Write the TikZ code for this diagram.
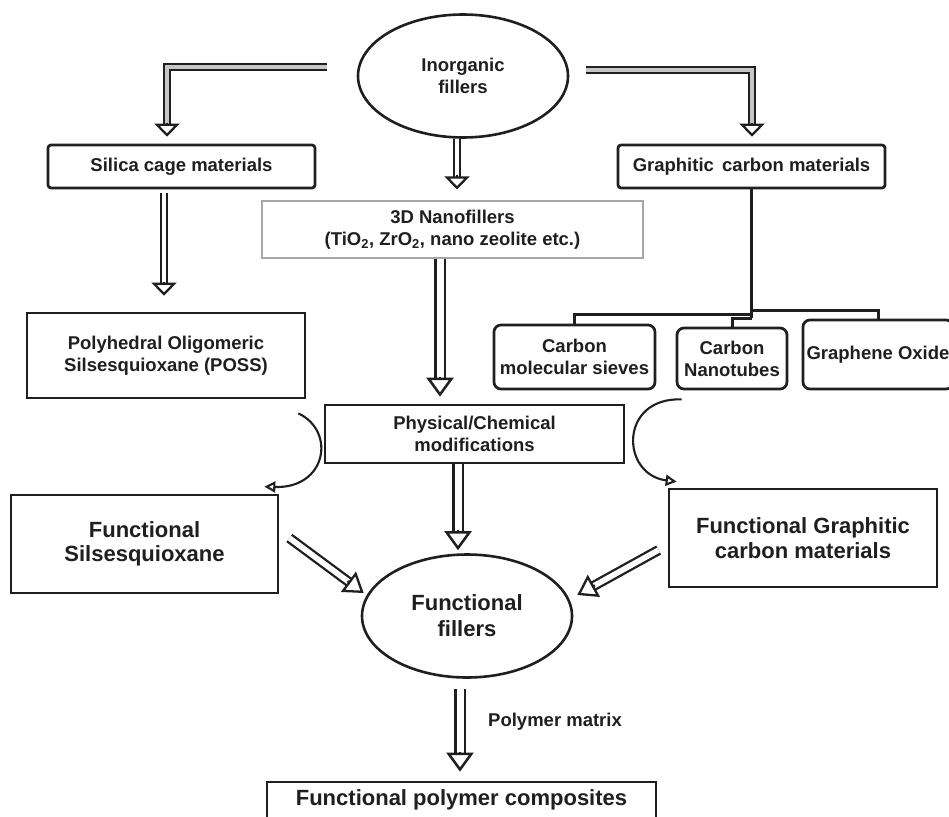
\documentclass[tikz,border=0pt]{standalone}
\usepackage{fontspec}
\setmainfont{Liberation Sans}
\usetikzlibrary{arrows.meta,calc,shapes.geometric}
\newcommand\smfont{\fontsize{18.5}{22}\selectfont\bfseries}
\newcommand\lgfont{\fontsize{22}{24.5}\selectfont\bfseries}
\colorlet{ink}{black!88}
\begin{document}
\begin{tikzpicture}[x=1pt,y=-1pt,
  box/.style={draw=ink, text=ink, line width=2.7pt, align=center, inner sep=0pt, font=\smfont},
  bigbox/.style={box, font=\lgfont},
  oval/.style={draw=ink, text=ink, line width=2.6pt, ellipse, align=center, inner sep=0pt,
               minimum width=210pt, minimum height=123pt},
  sshaft/.style={draw=ink, line width=2.3pt, double=white, double distance=3.6pt},
  lshaft/.style={sshaft, double=gray!45},
  bshaft/.style={draw=ink, line width=2.5pt, double=white, double distance=7pt},
  dshaft/.style={draw=ink, line width=2.3pt, double=white, double distance=5.6pt},
  shead/.style={draw=ink, line width=2.3pt, -{Triangle[fill=white,width=25pt,length=13pt]}},
  bhead/.style={draw=ink, line width=2.5pt, -{Triangle[fill=white,width=27pt,length=19pt]}},
  dhead/.style={draw=ink, line width=2.3pt, -{Triangle[fill=white,width=25pt,length=19pt]}},
  curve/.style={draw=ink, line width=2.1pt, -{Triangle[fill=white,width=11pt,length=11pt]}},
  tree/.style={draw=ink, line width=3pt}]
\clip (0,0) rectangle (949,816);
\fill[white] (0,0) rectangle (949,816);

% nodes
\node[oval, font=\smfont] (inorg) at (463,76) {Inorganic\\fillers};
\node[box, rounded corners=3pt, minimum width=267pt, minimum height=43pt] (sil) at (181.5,166.5) {Silica cage materials};
\node[box, rounded corners=3pt, minimum width=267pt, minimum height=43pt] (gcm) at (751.5,166.5) {Graphitic\ \,carbon materials};
\node[box, draw=gray!70, line width=1.2pt, minimum width=381pt, minimum height=57pt] (nano) at (452.5,229.5)
  {3D Nanofillers\\(TiO\textsubscript{2}, ZrO\textsubscript{2}, nano zeolite etc.)};
\node[box, minimum width=278pt, minimum height=85pt] (poss) at (166,355.5) {Polyhedral Oligomeric\\Silsesquioxane (POSS)};
\node[box, rounded corners=7pt, minimum width=161pt, minimum height=64pt] (cms) at (574.5,357) {Carbon\\molecular sieves};
\node[box, rounded corners=7pt, minimum width=110pt, minimum height=61pt] (cnt) at (732,358.5) {Carbon\\Nanotubes};
\node[box, rounded corners=7pt, minimum width=150pt, minimum height=69pt] (go) at (878,354.5) {Graphene Oxide};
\node[box, minimum width=299pt, minimum height=58pt] (phys) at (474.5,434) {Physical/Chemical\\modifications};
\node[bigbox, minimum width=267pt, minimum height=98pt] (fsil) at (144.5,544) {Functional\\Silsesquioxane};
\node[bigbox, minimum width=268pt, minimum height=98pt] (fgr) at (803,538) {Functional Graphitic\\carbon materials};
\node[oval, font=\fontsize{22}{26}\selectfont\bfseries] (ff) at (467,616) {Functional\\fillers};
\node[bigbox, minimum width=389pt, minimum height=36pt] (comp) at (461.5,800) {Functional polymer composites};
\node[text=ink, font=\smfont, anchor=west, inner sep=0pt] (pm) at (488,722) {Polymer matrix};

% coordinates
\coordinate (l0) at ($(inorg.west)+(-30,-9)$);
\coordinate (l1) at ($(sil.north)+(-14.5,-7)$);
\coordinate (r0) at ($(inorg.east)+(17,-6)$);
\coordinate (r1) at ($(gcm.north)+(0.5,-7)$);
\coordinate (a0) at ($(inorg.south)+(-6,0)$);
\coordinate (a1) at ($(nano.north)+(4.5,-11)$);
\coordinate (b0) at ($(sil.south)+(-17.5,4)$);
\coordinate (b1) at ($(poss.north)+(-2,-16)$);
\coordinate (c0) at ($(nano.south)+(-12.5,0)$);
\coordinate (c1) at ($(phys.north)+(-34.5,-7)$);
\coordinate (d0) at ($(phys.south)+(-16.5,0)$);
\coordinate (d1) at ($(ff.north)+(-9,-3)$);
\coordinate (e0) at ($(ff.south)+(-7,10)$);
\coordinate (e1) at ($(comp.north)+(-1.5,-9)$);
\coordinate (t0) at ($(fsil.east)+(10,-6)$);
\coordinate (t1) at ($(ff.west)+(3,-23)$);
\coordinate (u0) at ($(fgr.west)+(-9,12)$);
\coordinate (u1) at ($(ff.east)+(4,-21)$);
\coordinate (p0) at ($(poss.south east)+(-8,14)$);
\coordinate (p1) at ($(fsil.north east)+(-15,-7)$);
\coordinate (q0) at ($(cnt.south west)+(6,9)$);
\coordinate (q1) at ($(fgr.north west)+(9,-6)$);
\coordinate (j) at ($(gcm.south)+(0,125)$);

% L-shaped arrows from Inorganic fillers
\draw[lshaft] (l0) -| ($(l1)+(0,-12)$);
\draw[shead] ($(l1)+(0,-14)$) -- (l1);
\draw[lshaft] (r0) -| ($(r1)+(0,-12)$);
\draw[shead] ($(r1)+(0,-14)$) -- (r1);

% small vertical arrows
\draw[sshaft] (a0) -- ($(a1)+(0,-12)$);
\draw[shead] ($(a1)+(0,-14)$) -- (a1);
\draw[sshaft] (b0) -- ($(b1)+(0,-12)$);
\draw[shead] ($(b1)+(0,-14)$) -- (b1);

% big vertical arrows
\draw[bshaft] (c0) -- ($(c1)+(0,-18)$);
\draw[bhead] ($(c1)+(0,-20)$) -- (c1);
\draw[bshaft] (d0) -- ($(d1)+(0,-18)$);
\draw[bhead] ($(d1)+(0,-20)$) -- (d1);
\draw[bshaft] (e0) -- ($(e1)+(0,-18)$);
\draw[bhead] ($(e1)+(0,-20)$) -- (e1);

% diagonal arrows
\draw[dshaft] (t0) -- ($(t1)!18pt!(t0)$);
\draw[dhead] ($(t1)!20pt!(t0)$) -- (t1);
\draw[dshaft] (u0) -- ($(u1)!18pt!(u0)$);
\draw[dhead] ($(u1)!20pt!(u0)$) -- (u1);

% graphitic tree
\draw[tree] (gcm.south) -- ($(j)+(0,4)$);
\draw[tree] (j) -| (cms.north);
\draw[tree] ($(j)+(0,4)$) -| (cnt.north);
\draw[tree] ($(j)+(0,-4)$) -| (go.north);

% curved arrows
\draw[curve] (p0) .. controls +(38,18) and +(62,2) .. (p1);
\draw[curve] (q0) .. controls +(-63,-2) and +(-56,-7) .. (q1);
\end{tikzpicture}
\end{document}
